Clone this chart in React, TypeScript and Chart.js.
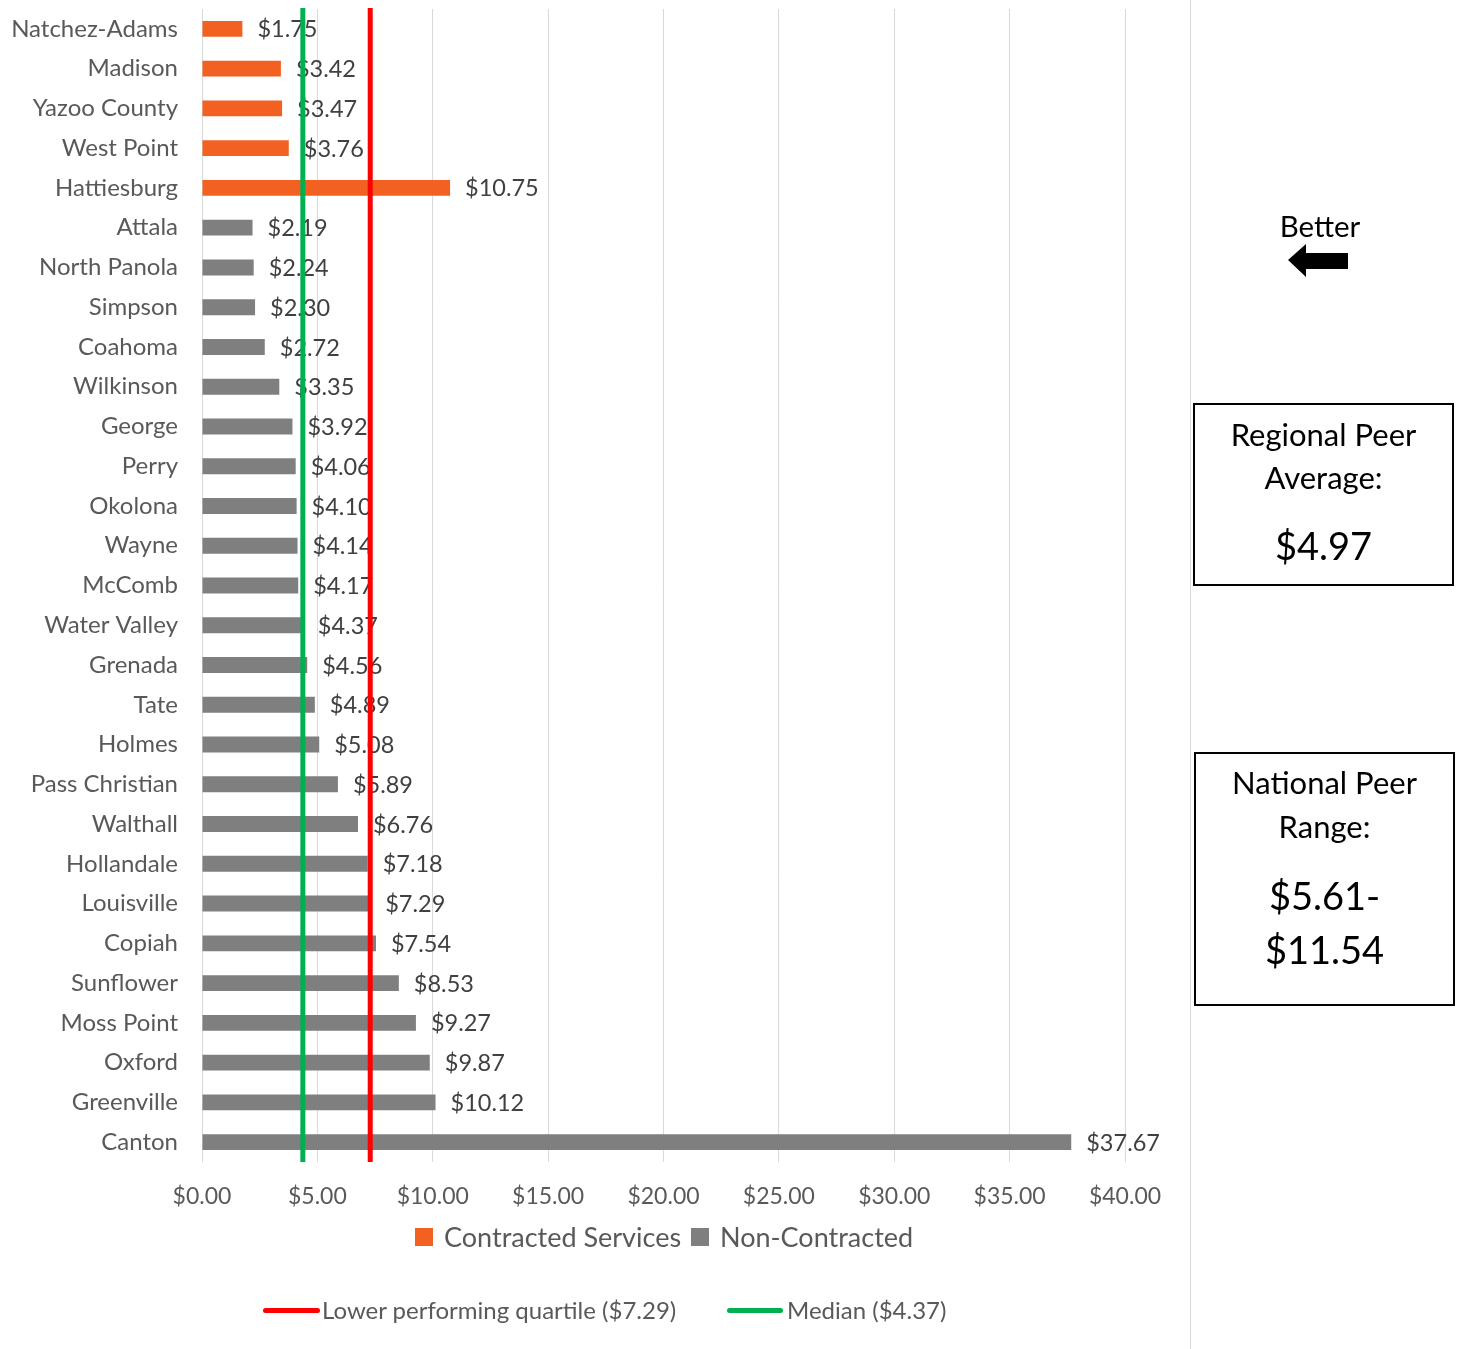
import React, { useEffect, useRef } from "react";
import { Chart, registerables } from "chart.js";

Chart.register(...registerables);

const categories = [
  "Natchez-Adams", "Madison", "Yazoo County", "West Point", "Hattiesburg",
  "Attala", "North Panola", "Simpson", "Coahoma", "Wilkinson", "George",
  "Perry", "Okolona", "Wayne", "McComb", "Water Valley", "Grenada", "Tate",
  "Holmes", "Pass Christian", "Walthall", "Hollandale", "Louisville",
  "Copiah", "Sunflower", "Moss Point", "Oxford", "Greenville", "Canton",
];

const contracted: (number | null)[] = [
  1.75, 3.42, 3.47, 3.76, 10.75,
  null, null, null, null, null, null, null, null, null, null, null, null,
  null, null, null, null, null, null, null, null, null, null, null, null,
];

const nonContracted: (number | null)[] = [
  null, null, null, null, null,
  2.19, 2.24, 2.3, 2.72, 3.35, 3.92, 4.06, 4.1, 4.14, 4.17, 4.37, 4.56,
  4.89, 5.08, 5.89, 6.76, 7.18, 7.29, 7.54, 8.53, 9.27, 9.87, 10.12, 37.67,
];

const xTicks = [0, 5, 10, 15, 20, 25, 30, 35, 40];
const lowerQuartile = 7.29;
const median = 4.37;
const regionalAverage = "$4.97";
const nationalRange = ["$5.61-", "$11.54"];

const FONT = "Lato, 'Open Sans', sans-serif";
const ORANGE = "#F26122";
const GREY = "#7F7F7F";
const RED = "#FF0000";
const GREEN = "#00B050";
const TEXT = "#595959";

const fmt = (v: number) => "$" + v.toFixed(2);

const overlayPlugin = {
  id: "overlay",
  afterDatasetsDraw(chart: any) {
    const ctx = chart.ctx;
    ctx.save();
    ctx.font = `23.5px ${FONT}`;
    ctx.fillStyle = "#404040";
    ctx.textAlign = "left";
    ctx.textBaseline = "middle";
    chart.data.datasets.forEach((ds: any, di: number) => {
      const meta = chart.getDatasetMeta(di);
      meta.data.forEach((bar: any, i: number) => {
        const v = ds.data[i];
        if (v === null || v === undefined) return;
        ctx.fillText(fmt(v), bar.x + 15, bar.y + 1);
      });
    });
    ctx.restore();
  },
  afterDraw(chart: any) {
    const ctx = chart.ctx;
    const xs = chart.scales.x;
    const area = chart.chartArea;
    ctx.save();
    ctx.lineWidth = 5;
    [[median, GREEN], [lowerQuartile, RED]].forEach(([v, c]) => {
      const x = xs.getPixelForValue(v as number);
      ctx.strokeStyle = c as string;
      ctx.beginPath();
      ctx.moveTo(x, area.top - 1);
      ctx.lineTo(x, area.bottom);
      ctx.stroke();
    });
    ctx.restore();
  },
};

export default function App() {
  const ref = useRef<HTMLCanvasElement | null>(null);

  useEffect(() => {
    if (!ref.current) return;
    const chart = new Chart(ref.current, {
      type: "bar",
      data: {
        labels: categories,
        datasets: [
          {
            label: "Contracted Services",
            data: contracted as any,
            backgroundColor: ORANGE,
            barPercentage: 0.4,
            categoryPercentage: 1,
          },
          {
            label: "Non-Contracted",
            data: nonContracted as any,
            backgroundColor: GREY,
            barPercentage: 0.4,
            categoryPercentage: 1,
          },
        ],
      },
      options: {
        indexAxis: "y",
        responsive: false,
        animation: false,
        maintainAspectRatio: false,
        layout: { padding: { top: 9, right: 338, left: 0, bottom: 0 } },
        plugins: {
          legend: { display: false },
          tooltip: { enabled: false },
        },
        scales: {
          x: {
            min: 0,
            max: 40,
            afterBuildTicks: (s: any) => {
              s.ticks = xTicks.map((v) => ({ value: v }));
            },
            afterFit: (s: any) => {
              s.height = 187;
              s.paddingLeft = 0;
              s.paddingRight = 0;
            },
            grid: { color: "#D9D9D9", drawTicks: false, lineWidth: 1 },
            border: { display: false },
            ticks: {
              padding: 21,
              color: TEXT,
              font: { family: FONT, size: 23 },
              callback: (v: any) => fmt(Number(v)),
              maxRotation: 0,
            },
          },
          y: {
            stacked: true,
            afterFit: (s: any) => {
              s.width = 202;
              s.paddingTop = 0;
              s.paddingBottom = 0;
            },
            grid: { display: false, drawTicks: false },
            border: { display: false },
            ticks: {
              padding: 24,
              color: TEXT,
              font: { family: FONT, size: 24 },
              autoSkip: false,
            },
          },
        },
      },
      plugins: [overlayPlugin],
    });
    return () => chart.destroy();
  }, []);

  const abs = (o: React.CSSProperties): React.CSSProperties => ({ position: "absolute", ...o });
  const line = (cy: number, size: number, text: string, left: number, width: number) => (
    <div style={abs({ left, width, top: cy - 25, height: 50, lineHeight: "50px", fontSize: size, textAlign: "center", color: "#000", whiteSpace: "nowrap" })}>{text}</div>
  );

  return (
    <div style={{ position: "absolute", left: 0, top: 0, width: 1463, height: 1349, background: "#fff", fontFamily: FONT, overflow: "hidden" }}>
      <canvas ref={ref} width={1463} height={1349} style={{ position: "absolute", left: 0, top: 0, width: 1463, height: 1349 }} />

      {/* bar legend */}
      <div style={abs({ left: 415, top: 1228, width: 18, height: 18, background: ORANGE })} />
      <div style={abs({ left: 444, top: 1222, fontSize: 27, color: TEXT, lineHeight: "30px", whiteSpace: "nowrap" })}>Contracted Services</div>
      <div style={abs({ left: 691, top: 1228, width: 18, height: 18, background: GREY })} />
      <div style={abs({ left: 720, top: 1222, fontSize: 27, color: TEXT, lineHeight: "30px", whiteSpace: "nowrap" })}>Non-Contracted</div>

      {/* line legend */}
      <div style={abs({ left: 263, top: 1308, width: 57, height: 5, background: RED, borderRadius: 3 })} />
      <div style={abs({ left: 322, top: 1296, fontSize: 24, color: TEXT, lineHeight: "28px", whiteSpace: "nowrap" })}>Lower performing quartile ($7.29)</div>
      <div style={abs({ left: 727, top: 1308, width: 56, height: 5, background: GREEN, borderRadius: 3 })} />
      <div style={abs({ left: 787, top: 1296, fontSize: 24, color: TEXT, lineHeight: "28px", whiteSpace: "nowrap" })}>Median ($4.37)</div>

      {/* right panel */}
      <div style={abs({ left: 1190, top: 0, width: 1, height: 1349, background: "#D9D9D9" })} />
      {line(226, 29.5, "Better", 1240, 160)}
      <svg style={abs({ left: 1286, top: 242, width: 64, height: 37 })} width={64} height={37}>
        <polygon points="2,18 20,2 20,11 62,11 62,27 20,27 20,35" fill="#000" />
      </svg>

      <div style={abs({ left: 1193, top: 403, width: 257, height: 179, border: "2px solid #000" })} />
      {line(434, 31, "Regional Peer", 1193, 261)}
      {line(477, 31, "Average:", 1193, 261)}
      {line(545, 38, regionalAverage, 1193, 261)}

      <div style={abs({ left: 1194, top: 752, width: 257, height: 250, border: "2px solid #000" })} />
      {line(782, 31, "National Peer", 1194, 261)}
      {line(826, 31, "Range:", 1194, 261)}
      {line(895, 38, nationalRange[0], 1194, 261)}
      {line(949, 38, nationalRange[1], 1194, 261)}
    </div>
  );
}
